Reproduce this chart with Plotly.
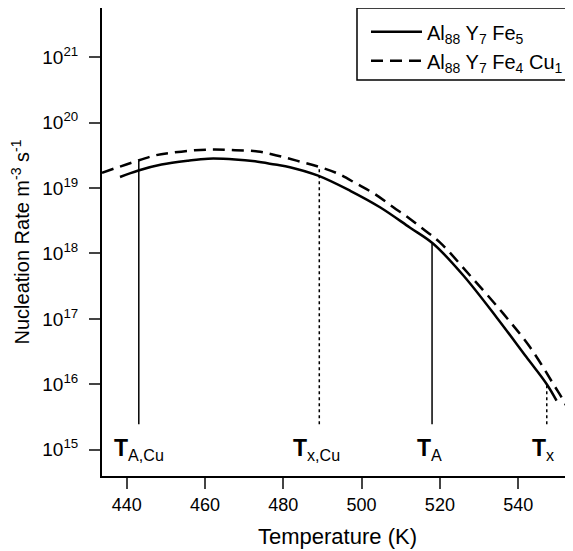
import plotly.graph_objects as go

# ---- data ----
temp_fe5 = [438.3, 443.0, 448.9, 455.7, 460.8, 467.7, 472.8, 477.9, 481.7, 488.9,
            497.1, 504.7, 512.3, 518.3, 526.0, 534.5, 542.1, 547.3, 549.8]
rate_fe5 = [1.48e19, 1.86e19, 2.29e19, 2.63e19, 2.82e19, 2.75e19, 2.57e19, 2.29e19, 2.09e19, 1.55e19,
            9.1e18, 5.1e18, 2.5e18, 1.41e18, 4.6e17, 1.05e17, 2.6e16, 1.0e16, 5.6e15]

temp_cu = [433.7, 441.3, 447.2, 451.5, 457.4, 462.5, 467.7, 473.5, 478.3, 483.4, 488.9, 494.0,
           498.7, 503.4, 508.1, 512.3, 516.2, 520.0, 527.7, 536.2, 543.0, 549.0, 552.4, 554.0]
rate_cu = [1.72e19, 2.45e19, 3.16e19, 3.47e19, 3.80e19, 3.89e19, 3.80e19, 3.63e19, 3.16e19, 2.63e19,
           2.14e19, 1.66e19, 1.17e19, 8.1e18, 5.1e18, 3.4e18, 2.24e18, 1.48e18, 4.6e17, 1.2e17,
           3.7e16, 1.0e16, 4.5e15, 2.3e15]

marker_names = ["<b>T</b><sub>A,Cu</sub>", "<b>T</b><sub>x,Cu</sub>", "<b>T</b><sub>A</sub>", "<b>T</b><sub>x</sub>"]
marker_temps = [443.1, 489.2, 518.0, 547.3]
marker_tops = [2.63e19, 2.14e19, 1.41e18, 1.0e16]
marker_bottom = 2.45e15
marker_dash = ["solid", "dot", "solid", "dot"]
label_temps = [436.2, 481.9, 513.6, 543.1]
label_rate_exp = 15.0

x_ticks = [440, 460, 480, 500, 520, 540]
y_exps = [15, 16, 17, 18, 19, 20, 21]
y_tickvals = [10.0 ** e for e in y_exps]
y_ticktext = ["10<sup>%d</sup>" % e for e in y_exps]

FONT = "Liberation Sans, Arial, Helvetica, sans-serif"

fig = go.Figure()
fig.add_trace(go.Scatter(x=temp_fe5, y=rate_fe5, mode="lines", line_shape="spline",
                         line=dict(color="black", width=2.5),
                         name="Al<sub>88</sub> Y<sub>7</sub> Fe<sub>5</sub>"))
fig.add_trace(go.Scatter(x=temp_cu, y=rate_cu, mode="lines", line_shape="spline",
                         line=dict(color="black", width=2.5, dash="12px,7px"),
                         name="Al<sub>88</sub> Y<sub>7</sub> Fe<sub>4</sub> Cu<sub>1</sub>"))

for t, top, d in zip(marker_temps, marker_tops, marker_dash):
    fig.add_trace(go.Scatter(x=[t, t], y=[marker_bottom, top], mode="lines",
                             line=dict(color="black", width=1.5, dash=d),
                             showlegend=False, hoverinfo="skip"))

for name, lt in zip(marker_names, label_temps):
    fig.add_annotation(x=lt, y=label_rate_exp, xref="x", yref="y", text=name,
                       showarrow=False, xanchor="left", yanchor="middle",
                       font=dict(size=23, color="black", family=FONT))

# legend frame (left and bottom edges; top coincides with plot frame)
fig.add_shape(type="rect", xref="paper", yref="paper", x0=0.5414, x1=1.05, y0=0.846, y1=1.0,
              line=dict(color="black", width=1.5), fillcolor="rgba(0,0,0,0)")

# the page body adds an 8px offset, so the figure is 8px smaller than the window
fig.update_layout(
    width=565, height=543,
    margin=dict(l=94, r=0, t=0, b=75),
    paper_bgcolor="white", plot_bgcolor="white",
    font=dict(family=FONT, size=18, color="black"),
    showlegend=True,
    legend=dict(x=0.5605, y=0.991, xanchor="left", yanchor="top", itemwidth=51,
                bgcolor="rgba(0,0,0,0)", borderwidth=0,
                font=dict(size=20, family=FONT, color="black"), tracegroupgap=0),
    xaxis=dict(range=[433.7, 554], tickvals=x_ticks, ticks="outside", ticklen=11, tickwidth=1.5,
               showline=True, linewidth=2, linecolor="black", mirror=True, showgrid=False,
               zeroline=False, tickfont=dict(size=18), automargin=False,
               title=dict(text="Temperature (K)", font=dict(size=22), standoff=15)),
    yaxis=dict(type="log", range=[14.596, 21.755], tickvals=y_tickvals, ticktext=y_ticktext,
               ticks="outside", ticklen=11, tickwidth=1.5, showline=True, linewidth=2,
               linecolor="black", mirror=False, showgrid=False, zeroline=False,
               tickfont=dict(size=19), automargin=False, ticklabelstandoff=7,
               title=dict(text="Nucleation Rate m<sup>-3</sup> s<sup>-1</sup>", font=dict(size=20),
                          standoff=10)),
)

fig.write_html("out.html")
